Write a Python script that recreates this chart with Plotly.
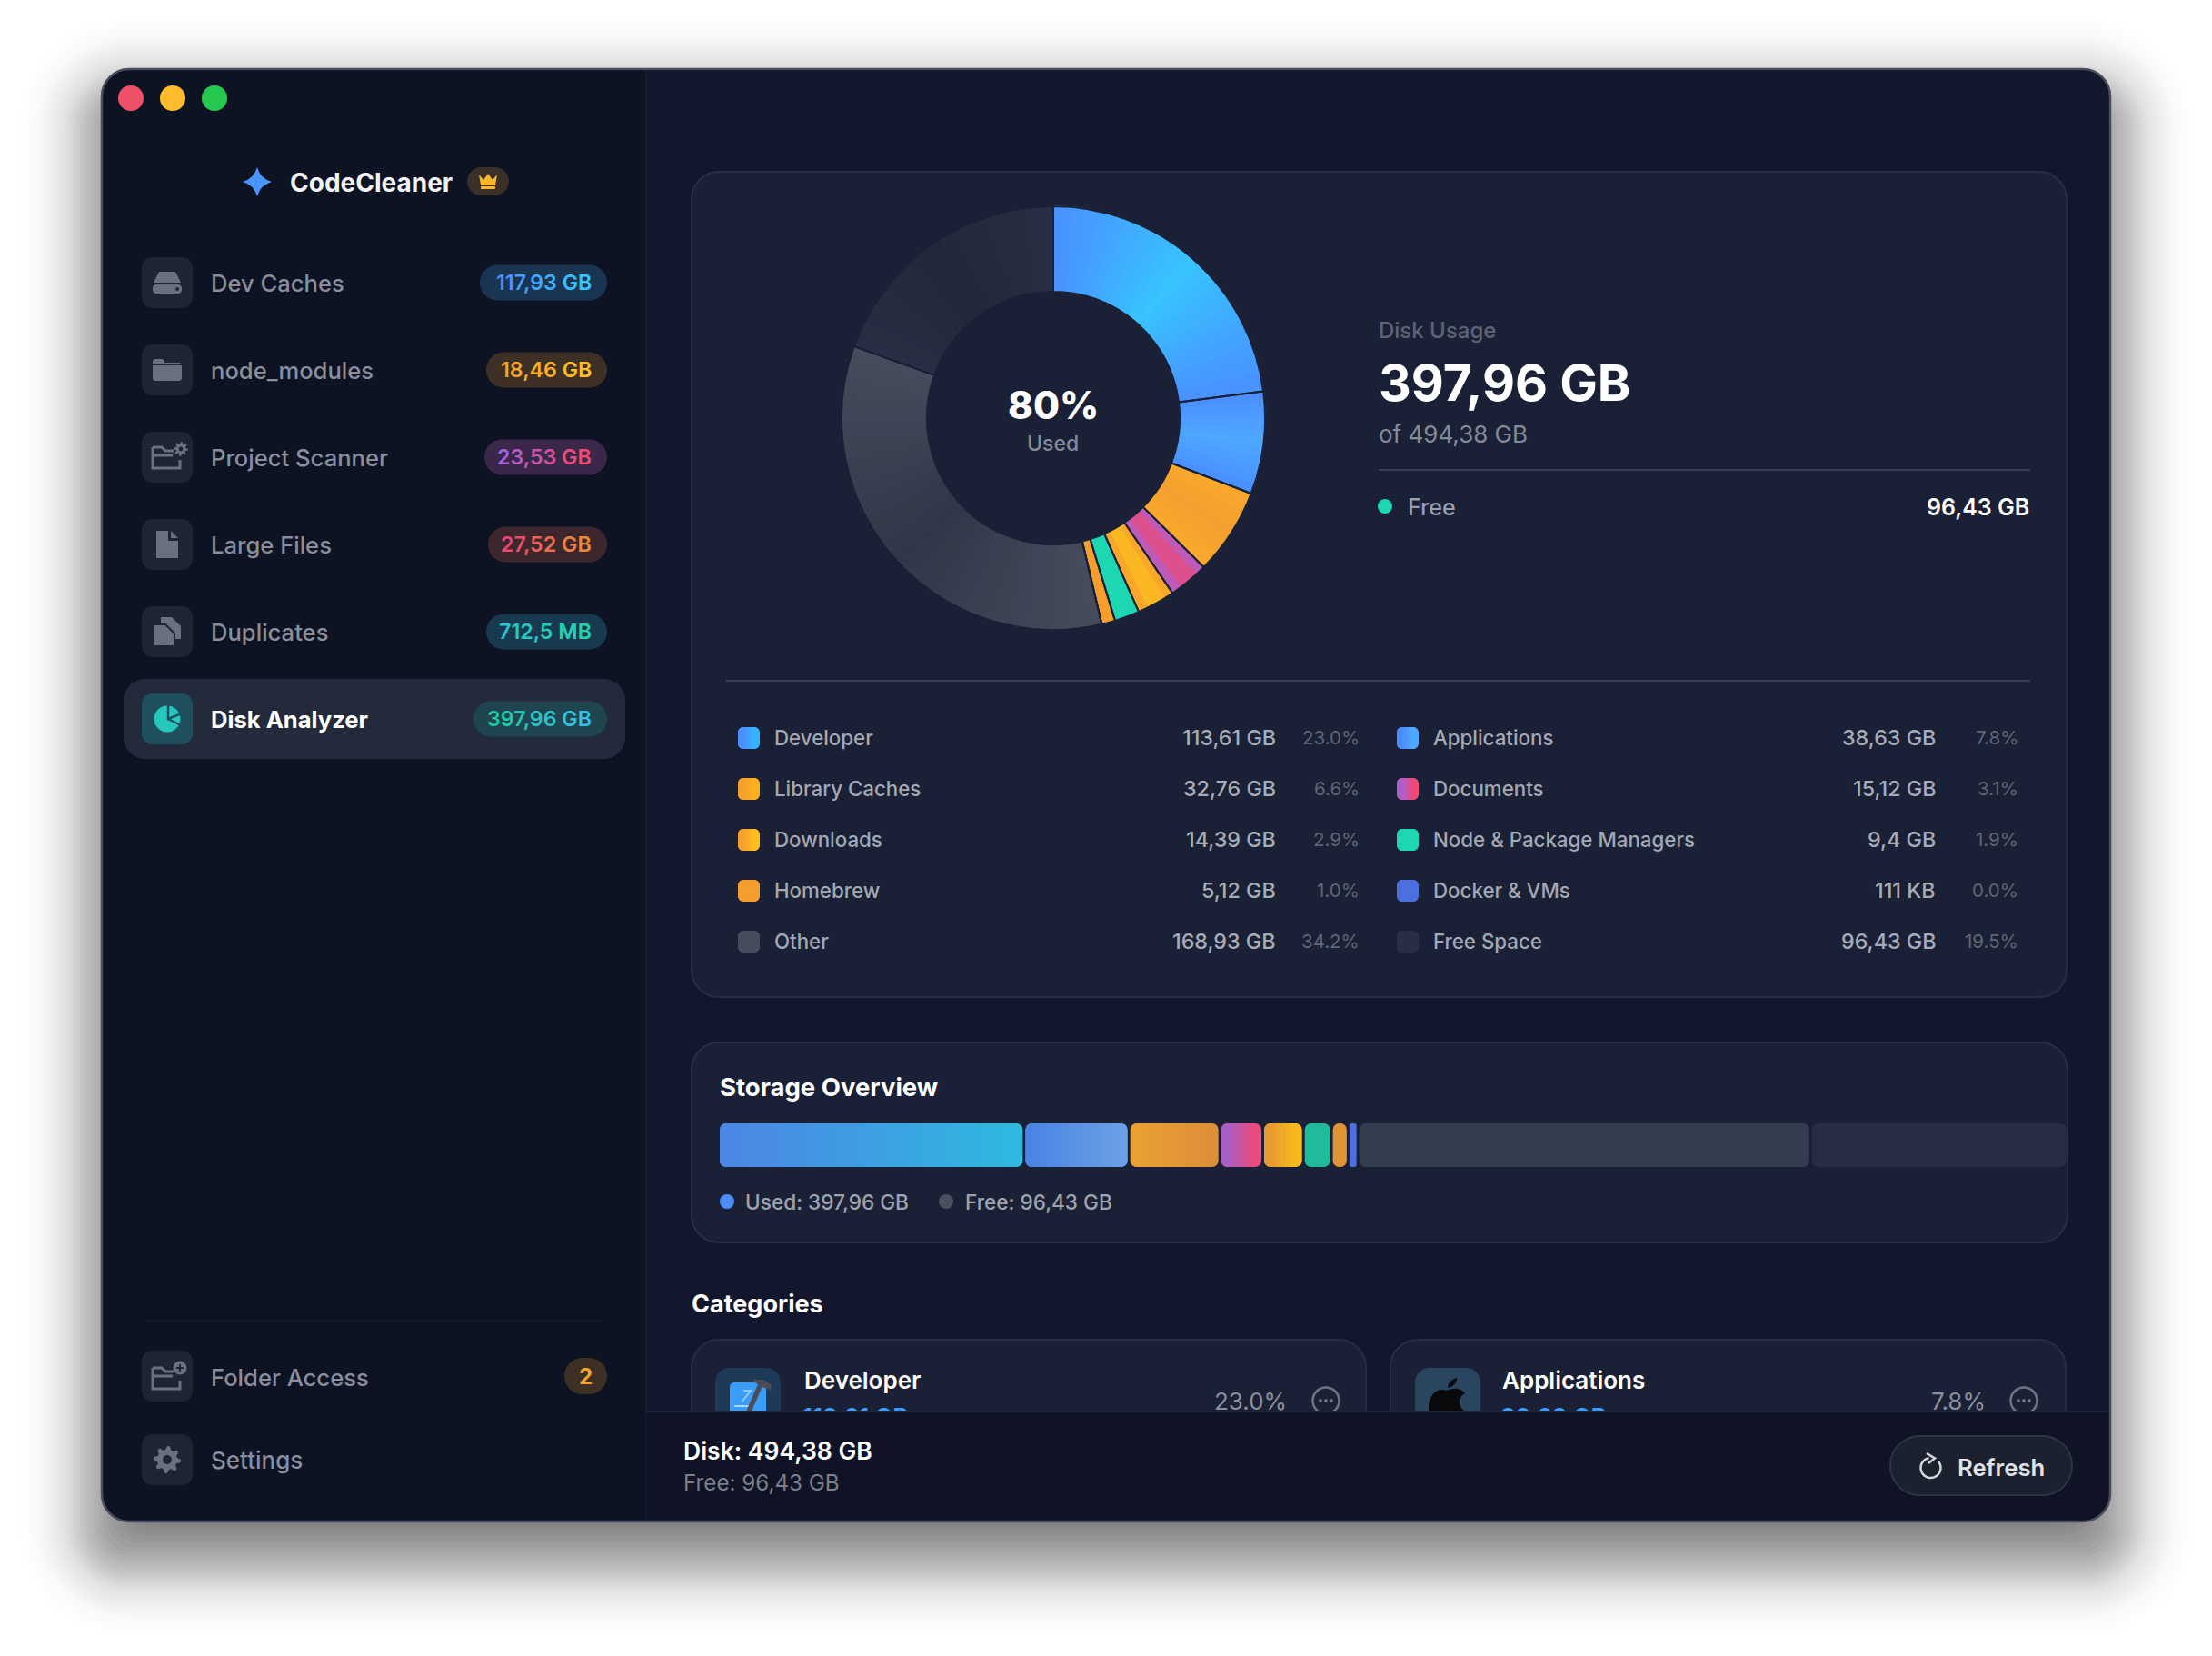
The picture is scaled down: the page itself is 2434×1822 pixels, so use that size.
import math
import numpy as np
import plotly.graph_objects as go

# ---- data ----
categories = ["Developer", "Applications", "Library Caches", "Documents", "Downloads",
              "Node & Package Managers", "Homebrew", "Docker & VMs", "Other", "Free Space"]
sizes_gb = [113.61, 38.63, 32.76, 15.12, 14.39, 9.4, 5.12, 0.000111, 168.93, 96.43]
size_labels = ["113,61 GB", "38,63 GB", "32,76 GB", "15,12 GB", "14,39 GB",
               "9,4 GB", "5,12 GB", "111 KB", "168,93 GB", "96,43 GB"]
share_labels = ["23.0%", "7.8%", "6.6%", "3.1%", "2.9%", "1.9%", "1.0%", "0.0%", "34.2%", "19.5%"]
# overview strip: the small segments have a minimum width, so these are read from the strip itself
strip_gb = [112.2, 38.5, 33.3, 15.8, 14.9, 10.3, 6.1, 3.6, 166.2, 93.4]

nav_labels = ["Dev Caches", "node_modules", "Project Scanner", "Large Files", "Duplicates", "Disk Analyzer"]
nav_badges = ["117,93 GB", "18,46 GB", "23,53 GB", "27,52 GB", "712,5 MB", "397,96 GB"]

# ---- colours ----
PAGE = "#ffffff"
SIDEBAR = "#0e1324"
MAIN = "#12172d"
FOOTER = "#0f1325"
CARD = "#1a2136"
CARD_LINE = "#272e44"
TILE = "#1e2432"
ICON = "#6b7080"
NAV_TEXT = "#8a8e9c"
FONT = "Inter"

pie_edge = ["#4a90ff", "#4a8fff", "#f9a92c", "#ad60cc", "#f59f2e", "#1dd6b2", "#f59e2e", "#4d6fe0", "#474c5d", "#292e44"]
pie_mid = ["#38c4ff", "#4fa8ff", "#f5a030", "#ef4a78", "#ffc01e", "#1dd6b2", "#f59e2e", "#4d6fe0", "#313748", "#22283b"]
strip_start = ["#4c86e6", "#4a84e6", "#e9a035", "#a85fc8", "#e89a30", "#1fbb9b", "#e09436", "#4d6fe0", "#353d51", "#282c44"]
strip_end = ["#2fb9de", "#6ba0e4", "#dd8f38", "#ec4a78", "#f9bb1c", "#1fbb9b", "#e09436", "#4d6fe0", "#353d51", "#282c44"]
swatch_start = ["#4a90ff", "#4a8fff", "#f59f2e", "#ad60cc", "#f59f2e", "#1dd6b2", "#f59e2e", "#4d6fe0", "#474c5d", "#292e44"]
swatch_end = ["#38b4ff", "#4fa8ff", "#ffb020", "#ef4a78", "#ffc01e", "#1dd6b2", "#f59e2e", "#4d6fe0", "#474c5d", "#292e44"]
badge_fill = ["#1a3552", "#3f3026", "#3a2749", "#3e272c", "#183a50", "#1f4550"]
badge_text = [("#4c8dff", "#38c4ff"), ("#f5a030", "#ffbf20"), ("#a860d8", "#ef4a70"),
              ("#ee4673", "#e98a38"), ("#28c4d0", "#20d4a8"), ("#1fc9a2", "#35bfe6")]

W, H = 2434, 1822
shapes = []
notes = []


def mix(c0, c1, t):
    a = [int(c0[i:i + 2], 16) for i in (1, 3, 5)]
    b = [int(c1[i:i + 2], 16) for i in (1, 3, 5)]
    return "#%02x%02x%02x" % tuple(round(p + (q - p) * t) for p, q in zip(a, b))


def rounded(x0, y0, x1, y1, r, corners=(1, 1, 1, 1)):
    # corners: top-left, top-right, bottom-right, bottom-left
    k = 0.45
    tl, tr, br, bl = [r * c for c in corners]
    return (f"M{x0 + tl},{y0} L{x1 - tr},{y0} "
            f"C{x1 - tr * k},{y0} {x1},{y0 + tr * k} {x1},{y0 + tr} L{x1},{y1 - br} "
            f"C{x1},{y1 - br * k} {x1 - br * k},{y1} {x1 - br},{y1} L{x0 + bl},{y1} "
            f"C{x0 + bl * k},{y1} {x0},{y1 - bl * k} {x0},{y1 - bl} L{x0},{y0 + tl} "
            f"C{x0},{y0 + tl * k} {x0 + tl * k},{y0} {x0 + tl},{y0} Z")


def poly(points, close=True):
    d = "M" + " L".join(f"{x},{y}" for x, y in points)
    return d + (" Z" if close else "")


def path(d, fill=None, line=None, lw=0, opacity=None):
    s = dict(type="path", path=d, xref="x", yref="y", layer="below",
             fillcolor=fill or "rgba(0,0,0,0)", line=dict(color=line or "rgba(0,0,0,0)", width=lw))
    if opacity is not None:
        s["opacity"] = opacity
    shapes.append(s)


def disc(cx, cy, r, fill=None, line=None, lw=0):
    shapes.append(dict(type="circle", xref="x", yref="y", layer="below", x0=cx - r, x1=cx + r, y0=cy - r, y1=cy + r,
                       fillcolor=fill or "rgba(0,0,0,0)", line=dict(color=line or "rgba(0,0,0,0)", width=lw)))


def text(x, y, s, size, color, anchor="left", weight=400):
    # annotations carry a little padding, pull them back onto the measured edges
    x += {"left": -2, "right": 3, "center": 0}[anchor]
    notes.append(dict(x=x, y=y, xref="x", yref="y", text=s, showarrow=False, xanchor=anchor, yanchor="middle",
                      font=dict(family=FONT, size=size, color=color, weight=weight)))


def gradient_text(s, c0, c1):
    n = max(len(s) - 1, 1)
    return "".join(f'<span style="color:{mix(c0, c1, i / n)}">{ch}</span>' for i, ch in enumerate(s))


def gradient_swatch(x0, y0, x1, y1, r, c0, c1):
    path(rounded(x0, y0, x1, y1, r), c1)
    if c0 != c1:
        path(rounded(x0, y0, x1 - r, y1, r), c0)
        steps = 12
        dx = (x1 - x0 - 2 * r) / steps
        for i in range(steps):
            sx = x0 + r + i * dx
            path(poly([(sx, y0), (sx + dx + 0.4, y0), (sx + dx + 0.4, y1), (sx, y1)]), mix(c0, c1, (i + 0.5) / steps))


def gear_path(cx, cy, r_out, r_in, teeth=8):
    pts = []
    for i in range(teeth * 4):
        a = 2 * math.pi * i / (teeth * 4)
        rad = r_out if i % 4 in (0, 1) else r_in
        pts.append((cx + rad * math.cos(a), cy + rad * math.sin(a)))
    return poly(pts)


def folder_outline(cx, cy, color):
    path(poly([(cx - 15, cy - 11), (cx - 5, cy - 11), (cx - 1, cy - 7), (cx + 8, cy - 7)], close=False), None, color, 3)
    path(poly([(cx - 15, cy - 11), (cx - 15, cy + 12), (cx + 15, cy + 12), (cx + 15, cy + 3)], close=False), None, color, 3)
    path(poly([(cx - 15, cy - 2), (cx + 7, cy - 2)], close=False), None, color, 3)


def nav_icon(i, cx, cy):
    if i == 0:  # disk
        path(poly([(cx - 9, cy - 12), (cx + 9, cy - 12), (cx + 15, cy), (cx - 15, cy)]), ICON)
        path(rounded(cx - 16, cy + 2, cx + 16, cy + 12, 4), ICON)
        disc(cx + 11, cy + 7, 2, TILE)
    elif i == 1:  # folder
        path(rounded(cx - 16, cy - 12, cx - 3, cy, 3), ICON)
        path(rounded(cx - 16, cy - 8, cx + 16, cy + 12, 3), ICON)
        path(poly([(cx - 16, cy - 6), (cx + 16, cy - 6), (cx + 16, cy - 5), (cx - 16, cy - 5)]), TILE)
    elif i == 2:  # folder + gear
        folder_outline(cx - 1, cy, ICON)
        path(gear_path(cx + 15, cy - 9, 8, 5.5), ICON)
        disc(cx + 15, cy - 9, 2.4, TILE)
    elif i == 3:  # file
        path(poly([(cx - 12, cy - 15), (cx + 1, cy - 15), (cx + 1, cy - 4), (cx + 12, cy - 4), (cx + 12, cy + 15), (cx - 12, cy + 15)]), ICON)
        path(poly([(cx + 4, cy - 15), (cx + 12, cy - 7), (cx + 4, cy - 7)]), ICON)
    elif i == 4:  # duplicates
        path(poly([(cx - 7, cy - 16), (cx + 5, cy - 16), (cx + 15, cy - 6), (cx + 15, cy + 8), (cx - 7, cy + 8)]), ICON)
        path(poly([(cx - 15, cy - 8), (cx - 2, cy - 8), (cx + 8, cy + 2), (cx + 8, cy + 16), (cx - 15, cy + 16)]), ICON, TILE, 2)
    else:  # pie
        disc(cx, cy, 14.5, "#27c7c0")
        path(poly([(cx + 1, cy - 16), (cx + 1, cy), (cx + 16, cy - 6)], close=False), None, "#1f4f5c", 2.5)
        path(poly([(cx + 1, cy), (cx + 15, cy + 7)], close=False), None, "#1f4f5c", 2.5)


# ---- window chrome ----
WIN_TOP, WIN_BOTTOM = 76, 1674
shadow_layers = [(s, 0.004) for s in np.linspace(90, 72, 6)] + \
                [(s, 0.008) for s in np.linspace(69, 43, 11)] + \
                [(s, 0.017) for s in np.linspace(40, 11, 12)] + \
                [(s, 0.033) for s in np.linspace(8, -34, 10)]
for spread, alpha in shadow_layers:
    path(rounded(112 - spread, WIN_TOP + 35 - spread, 2322 + spread, WIN_BOTTOM + 35 + spread, 30 + max(spread, 0)),
         "#000000", opacity=alpha)

path(rounded(112, WIN_TOP, 2322, WIN_BOTTOM, 30), SIDEBAR, "#4a4e5c", 2.5)
path(rounded(711, WIN_TOP + 2, 2320, WIN_BOTTOM - 2, 28, (0, 1, 1, 0)), MAIN)
path(poly([(711, WIN_TOP + 2), (711, WIN_BOTTOM - 2)], close=False), None, "#161b2e", 2)

for cx, col in zip((144, 190, 236), ("#ee5068", "#febb2e", "#27c84f")):
    disc(cx, 108, 14, col)

# logo row
path("M283,184 Q286.5,196.5 299,200 Q286.5,203.5 283,216 Q279.5,203.5 267,200 Q279.5,196.5 283,184 Z", "#4a94ff")
text(319, 201, "CodeCleaner", 28, "#f2f3f5", weight=700)
path(rounded(514, 184, 560, 215, 15.5), "#3a3028")
path(poly([(527, 192), (532, 198), (537, 191), (542, 198), (547, 192), (545, 204), (529, 204)]), "#fbb62c")
path(rounded(529, 205, 545, 208, 1), "#fbb62c")

# sidebar rows
row_y = [311, 407, 503, 599, 695, 791]
badge_left = [528, 535, 533, 537, 535, 521]
path(rounded(136, 747, 688, 835, 24), "#222a3c")
for i, (label, badge) in enumerate(zip(nav_labels, nav_badges)):
    y = row_y[i]
    selected = i == 5
    path(rounded(156, y - 28, 212, y + 28, 12), "#1f4f5c" if selected else TILE)
    nav_icon(i, 184, y)
    text(232, y, label, 25.6, "#ffffff" if selected else NAV_TEXT, weight=700 if selected else 500)
    path(rounded(badge_left[i], y - 19.5, 668, y + 19.5, 19.5), badge_fill[i])
    text(650, y, gradient_text(badge, *badge_text[i]), 23.2, badge_text[i][0], anchor="right", weight=600)

path(poly([(160, 1453), (663, 1453)], close=False), None, "#181e30", 1.5)
path(rounded(156, 1486, 212, 1542, 12), TILE)
folder_outline(183, 1516, ICON)
disc(198, 1505, 7.5, ICON)
path("M198,1501 L198,1509 M194,1505 L202,1505", None, TILE, 1.8)
text(232, 1515, "Folder Access", 25.6, NAV_TEXT, weight=500)
path(rounded(621, 1494, 668, 1534, 20), "#3f3026")
text(644, 1514, "2", 24, "#f7a42c", anchor="center", weight=700)
path(rounded(156, 1578, 212, 1634, 12), TILE)
path(gear_path(184, 1606, 15, 11), ICON)
disc(184, 1606, 5, TILE)
text(232, 1606, "Settings", 26, NAV_TEXT, weight=500)

# ---- donut card ----
path(rounded(761, 189, 2274, 1097, 30), CARD, CARD_LINE, 2)
text(1158.6, 445, "80%", 42, "#ffffff", anchor="center", weight=800)
text(1158.6, 488, "Used", 23, "#858a97", anchor="center", weight=500)
text(1517, 363, "Disk Usage", 24, "#5d6475", weight=500)
text(1517, 420, "397,96 GB", 55.5, "#ffffff", weight=700)
text(1517, 477, "of 494,38 GB", 26, "#858a97", weight=400)
path(poly([(1517, 517), (2234, 517)], close=False), None, "#3a4053", 2)
disc(1524, 557, 8, "#1dd6b2")
text(1549, 558, "Free", 25, "#9a9fab", weight=500)
text(2232, 558, "96,43 GB", 25, "#ffffff", anchor="right", weight=600)
path(poly([(799, 749), (2234, 749)], close=False), None, "#3a4053", 2)

# legend table, two columns
legend_rows = [812, 868, 924, 980, 1036]
for i, cat in enumerate(categories):
    col, row = i % 2, i // 2
    y = legend_rows[row]
    sx = (812, 1537)[col]
    gradient_swatch(sx, y - 12, sx + 24, y + 12, 6, swatch_start[i], swatch_end[i])
    text((852, 1577)[col], y - 0.5, cat, 22.3, "#a4a8b3", weight=500)
    text((1403, 2129)[col], y - 0.5, size_labels[i], 23.3, "#a8acb6", anchor="right", weight=500)
    text((1495, 2220)[col], y - 0.5, share_labels[i], 20.5, "#5f6574", anchor="right")

# ---- storage overview card ----
path(rounded(761, 1147, 2275, 1367, 30), CARD, CARD_LINE, 2)
text(792, 1196, "Storage Overview", 27.5, "#ffffff", weight=700)
disc(800, 1322, 8, "#4d8df5")
text(820, 1322, "Used: 397,96 GB", 22.6, "#9fa3ae", weight=500)
disc(1041, 1322, 8, "#4a5060")
text(1062, 1322, "Free: 96,43 GB", 22.6, "#9fa3ae", weight=500)

# ---- categories ----
text(761, 1434, "Categories", 27, "#ffffff", weight=700)
for x0, x1 in ((761, 1503), (1530, 2273)):
    path(rounded(x0, 1474, x1, 1600, 30), CARD, CARD_LINE, 2)
path(rounded(787, 1505, 859, 1600, 16), "#1e3a58")
path(rounded(1557, 1505, 1629, 1600, 16), "#2a4560")
path(rounded(803, 1521, 843, 1600, 5), "#3a9cf5")
path(poly([(808, 1547), (826, 1547)], close=False), None, "#a9d8ff", 2)
path(poly([(818, 1530), (826, 1530), (816, 1543)], close=False), None, "#8ecbff", 2)
path(poly([(823, 1555), (837, 1523)], close=False), None, "#4a4d58", 5.5)
path(poly([(828, 1518), (840, 1518), (849, 1524), (848, 1529), (838, 1526), (832, 1522)]), "#4a4d58")
path("M1572,1548 C1572,1534 1582,1526 1592,1530 C1598,1527 1607,1526 1612,1533 C1604,1537 1604,1548 1612,1553 "
     "L1612,1600 L1576,1600 C1573,1580 1572,1560 1572,1548 Z", "#0a0a0c")
path("M1593,1527 C1593,1521 1598,1517 1603,1516 C1603,1522 1599,1526 1593,1527 Z", "#0a0a0c")
text(885, 1518, "Developer", 26, "#ffffff", weight=600)
text(1653, 1518, "Applications", 26, "#ffffff", weight=600)
text(1415, 1541, "23.0%", 26, "#8a8e9a", anchor="right")
text(2184, 1541, "7.8%", 26, "#8a8e9a", anchor="right")
for cx in (1459, 2227):
    disc(cx, 1541, 14.5, None, "#6f7482", 2.5)
    for dx in (-6, 0, 6):
        disc(cx + dx, 1541, 1.9, "#6f7482")

# ---- footer ----
path(rounded(711, 1553, 2320, WIN_BOTTOM - 2, 28, (0, 0, 1, 0)), FOOTER)
path(poly([(711, 1553), (2320, 1553)], close=False), None, "#1d2336", 2)
text(752, 1596, "Disk: 494,38 GB", 26.5, "#ffffff", weight=600)
text(752, 1631, "Free: 96,43 GB", 24.2, "#7a7f8c")
path(rounded(2080, 1580, 2280, 1645, 32), "#1c2130", "#2f3444", 2)
arc = [(2124.5 + 11 * math.cos(math.radians(a)), 1615 + 11 * math.sin(math.radians(a))) for a in range(-40, 262, 12)]
path(poly(arc, close=False), None, "#d4d6db", 2.5)
path(poly([(2120, 1599), (2129, 1604.5), (2122, 1610)], close=False), None, "#d4d6db", 2.5)
text(2154, 1614, "Refresh", 25.7, "#e0e2e6", weight=600)

fig = go.Figure()

# ---- donut: colour bands underneath, the real slices and separators on top ----
band_values, band_labels, band_colors = [], [], []
total = sum(sizes_gb)
for cat, v, c0, c1 in zip(categories, sizes_gb, pie_edge, pie_mid):
    n = 1 if c0 == c1 else max(3, int(v / total * 360 / 2.5))
    for k in range(n):
        t = (k + 0.5) / n
        band_values.append(v / n)
        band_labels.append(f"{cat} {k}")
        band_colors.append(mix(c0, c1, 1 - abs(2 * t - 1)))

R = 233
PIE_X = 1159
pie_domain = dict(x=[(PIE_X - R) / W, (PIE_X + R) / W], y=[1 - (460 + R) / H, 1 - (460 - R) / H])
fig.add_trace(go.Pie(values=band_values, labels=band_labels, sort=False, direction="clockwise", rotation=0,
                     hole=0.597, domain=pie_domain, textinfo="none", hoverinfo="skip", showlegend=False,
                     marker=dict(colors=band_colors, line=dict(color=band_colors, width=1))))
fig.add_trace(go.Pie(values=sizes_gb, labels=categories, sort=False, direction="clockwise", rotation=0,
                     hole=0.597, domain=pie_domain, textinfo="none", showlegend=False,
                     marker=dict(colors=["rgba(0,0,0,0)"] * len(categories), line=dict(color=CARD, width=2))))

# ---- overview strip ----
strip_total = sum(strip_gb)
gb_per_px = strip_total / (2274 - 792)
gap = 3 * gb_per_px
inset = 7 * gb_per_px
bases = np.cumsum([0] + strip_gb[:-1]).tolist()
widths = [v - gap if i < len(strip_gb) - 1 else v for i, v in enumerate(strip_gb)]

fig.add_trace(go.Bar(x=widths, y=[0] * len(widths), base=bases, orientation="h", width=1, xaxis="x2", yaxis="y2",
                     name="Storage", text=categories, textposition="none",
                     marker=dict(color=strip_end, cornerradius=7, line=dict(width=0))))
cap_x, cap_base, cap_col, band_x, band_base, band_col = [], [], [], [], [], []
for b, w, c0, c1 in zip(bases, widths, strip_start, strip_end):
    if c0 == c1:
        continue
    cap_x.append(w - inset)
    cap_base.append(b)
    cap_col.append(c0)
    n = max(2, int((w - 2 * inset) / gb_per_px / 5))
    dw = (w - 2 * inset) / n
    for k in range(n):
        band_x.append(dw * 1.15)
        band_base.append(b + inset + k * dw)
        band_col.append(mix(c0, c1, (k + 0.5) / n))
fig.add_trace(go.Bar(x=cap_x, y=[0] * len(cap_x), base=cap_base, orientation="h", width=1, xaxis="x2", yaxis="y2",
                     hoverinfo="skip", marker=dict(color=cap_col, cornerradius=7, line=dict(width=0))))
fig.add_trace(go.Bar(x=band_x, y=[0] * len(band_x), base=band_base, orientation="h", width=1, xaxis="x2", yaxis="y2",
                     hoverinfo="skip", marker=dict(color=band_col, line=dict(width=0))))

# card values that are cut off by the footer: clipped by their own subplot
fig.add_trace(go.Scatter(x=[883, 1651], y=[1561, 1561], text=[size_labels[0], size_labels[1]], mode="text",
                         textposition="middle right", xaxis="x3", yaxis="y3", cliponaxis=True, hoverinfo="skip",
                         textfont=dict(family=FONT, size=26, color="#3e9cff", weight=600)))

hidden = dict(visible=False, fixedrange=True, showgrid=False, zeroline=False)
fig.update_layout(
    width=W, height=H, margin=dict(l=0, r=0, t=0, b=0), showlegend=False,
    paper_bgcolor=PAGE, plot_bgcolor="rgba(0,0,0,0)", barmode="overlay",
    xaxis=dict(range=[0, W], domain=[0, 1], **hidden),
    yaxis=dict(range=[H, 0], domain=[0, 1], **hidden),
    xaxis2=dict(range=[0, strip_total], domain=[792 / W, 2274 / W], anchor="y2", **hidden),
    yaxis2=dict(range=[-0.5, 0.5], domain=[1 - 1284 / H, 1 - 1236 / H], anchor="x2", **hidden),
    xaxis3=dict(range=[0, W], domain=[0, 1], anchor="y3", **hidden),
    yaxis3=dict(range=[1552, 0], domain=[1 - 1552 / H, 1], anchor="x3", **hidden),
    shapes=shapes, annotations=notes,
)

fig.write_html("out.html", config=dict(displayModeBar=False),
               post_script="document.body.style.margin='0';document.body.style.overflow='hidden';")
